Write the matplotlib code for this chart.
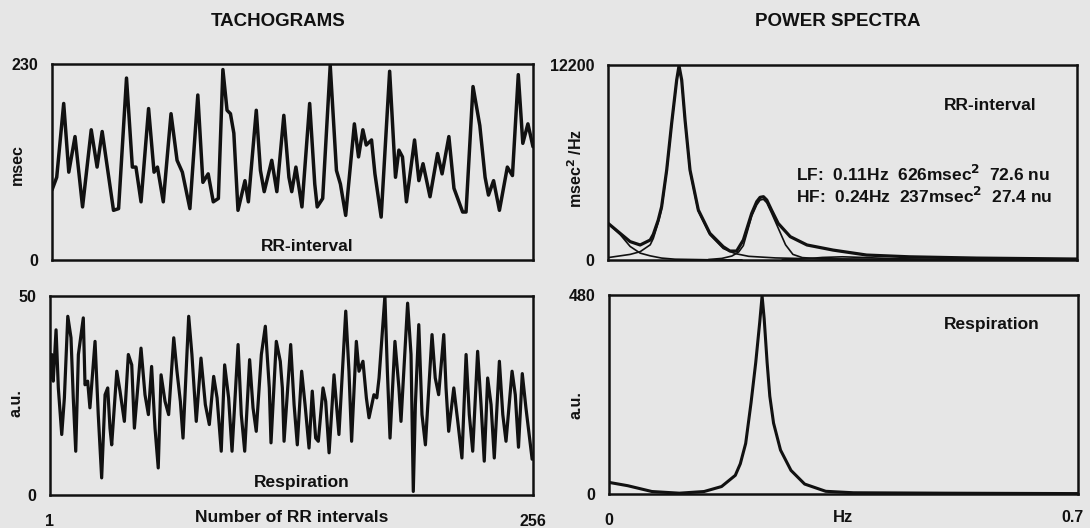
"""Tachograms and power spectra of RR-interval and respiration."""

import matplotlib

matplotlib.use("Agg")
import matplotlib.pyplot as plt

W, H = 1090, 528
BG = "#e6e6e6"
INK = "#111111"

# RR-interval tachogram: beat number and msec (traced turning points)
rr_beat = [1, 3.5, 7.2, 9.9, 13.2, 17.2, 21.8, 24.9, 27.6, 33.6, 36.3, 40.5,
           43.6, 45.5, 48.2, 52.2, 55.1, 56.9, 60.0, 64.1, 67.3, 70.1, 74.1,
           78.3, 81.0, 83.8, 86.5, 89.2, 91.6, 93.8, 95.6, 97.4, 99.6, 103.3,
           105.1, 109.3, 111.5, 113.5, 117.5, 120.2, 123.9, 126.6, 128.1,
           130.3, 133.5, 137.6, 140.3, 141.6, 144.5, 148.5, 151.8, 153.9,
           156.7, 161.3, 163.5, 165.8, 167.6, 170.4, 172.2, 175.5, 180.0,
           183.1, 184.9, 186.8, 188.9, 193.2, 195.5, 197.7, 201.4, 205.4,
           207.8, 211.4, 214.1, 218.7, 220.5, 224.2, 227.8, 230.6, 232.4,
           235.1, 238.2, 242.4, 245.1, 248.2, 250.6, 253.3, 256]
rr_msec = [82, 97, 184, 103, 145, 62, 153, 109, 151, 58, 60, 214,
           109, 109, 68, 178, 103, 109, 68, 172, 117, 103, 60,
           194, 91, 101, 68, 72, 224, 176, 172, 149, 58, 93,
           68, 176, 105, 80, 117, 80, 170, 97, 80,
           109, 62, 184, 89, 62, 72, 229, 105, 89,
           52, 160, 121, 153, 135, 141, 101, 50, 222,
           97, 129, 121, 68, 141, 93, 113, 74, 125,
           101, 145, 84, 56, 56, 204, 158, 97, 76,
           93, 58, 109, 99, 218, 137, 160, 133]

# Respiration tachogram: beat number and arbitrary units
resp_beat = [1.0, 1.9, 2.7, 4.2, 5.4, 7.2, 8.6, 10.4, 12.1, 13.3, 14.6, 16.0,
             18.6, 19.5, 20.9, 22.1, 24.8, 26.5, 28.3, 30.1, 31.5, 32.7, 33.6,
             36.3, 38.0, 40.3, 42.4, 44.2, 45.6, 49.1, 51.2, 53.0, 54.7, 56.5,
             58.2, 59.7, 61.8, 63.7, 66.4, 68.1, 69.9, 71.3, 74.3, 76.0, 78.3,
             80.8, 83.1, 85.2, 87.5, 89.3, 91.5, 93.3, 95.4, 97.2, 100.4,
             102.1, 103.9, 106.5, 108.3, 110.0, 112.7, 114.8, 116.9, 117.8,
             120.6, 122.7, 123.8, 124.7, 128.2, 130.0, 131.7, 134.0, 135.8,
             137.9, 139.6, 141.4, 142.8, 145.3, 146.7, 148.5, 151.1, 152.8,
             153.7, 157.3, 159.0, 160.4, 162.9, 164.3, 166.4, 168.2, 169.6,
             172.2, 173.7, 174.9, 178.0, 179.3, 180.7, 183.3, 185.4, 186.5,
             190.0, 191.8, 193.0, 194.1, 195.9, 197.6, 199.4, 202.9, 204.6,
             206.4, 209.1, 210.3, 211.7, 214.4, 216.5, 218.7, 220.9, 222.6,
             224.4, 227.0, 228.8, 230.5, 232.3, 234.1, 235.8, 238.5, 240.3,
             242.0, 245.2, 246.9, 248.6, 250.6, 252.5, 255.8]
resp_au = [29.4, 35.3, 28.6, 41.5, 26.9, 15.2, 24.4, 44.9, 39.5, 24.4, 11.0, 35.3,
           44.5, 27.7, 28.6, 21.9, 38.6, 20.2, 4.3, 25.2, 26.9, 16.8, 12.6,
           31.1, 26.1, 18.5, 35.3, 32.7, 16.8, 36.9, 25.2, 20.2, 32.3, 16.8,
           6.8, 30.2, 23.5, 20.2, 39.5, 31.1, 23.5, 14.3, 44.9, 35.3, 18.5,
           34.4, 22.7, 17.7, 29.8, 24.4, 11.0, 32.7, 24.4, 11.0, 37.8,
           20.2, 11.0, 34.0, 21.9, 16.0, 35.3, 42.4, 26.9, 13.1,
           38.6, 33.6, 26.9, 13.5, 37.8, 22.7, 12.6, 31.1, 22.7,
           11.8, 26.1, 14.3, 13.5, 26.9, 23.5, 10.6, 30.2, 20.2,
           15.2, 46.2, 31.1, 13.5, 38.6, 31.1, 33.6, 24.4, 19.4,
           25.2, 24.4, 29.4, 50.0, 31.1, 14.3, 38.6, 26.9, 18.5,
           48.2, 35.3, 0.9, 22.7, 42.8, 20.2, 12.6, 40.3, 29.4,
           25.2, 40.3, 26.9, 16.0, 26.9, 18.5, 9.3, 35.3, 20.2,
           11.0, 36.1, 22.7, 8.5, 29.4, 22.7, 9.3, 33.6, 20.2,
           13.5, 31.1, 25.2, 12.0, 30.5, 22.0, 9.0]

# RR-interval power spectrum (msec^2/Hz) and its components
rr_total_hz = [0.0, 0.018, 0.033, 0.048, 0.063, 0.0676, 0.075, 0.080, 0.0876,
               0.095, 0.1025, 0.106, 0.110, 0.115, 0.1224, 0.1348, 0.152,
               0.172, 0.182, 0.192, 0.202, 0.2145, 0.222, 0.227, 0.232, 0.237,
               0.244, 0.254, 0.272, 0.297, 0.336, 0.386, 0.45, 0.55, 0.7]
rr_total_psd = [2300, 1670, 1150, 940, 1250, 1600, 2500, 3330, 5630,
                8550, 11260, 12150, 11260, 8760, 5630, 3130, 1670,
                830, 560, 560, 1250, 2920, 3650, 3920, 3960, 3750,
                3130, 2290, 1460, 940, 620, 310, 200, 120, 60]
vlf_hz = [0.0, 0.018, 0.033, 0.048, 0.063, 0.08, 0.1, 0.15, 0.2]
vlf_psd = [2300, 1600, 850, 430, 260, 120, 50, 15, 5]
lf_hz = [0.0, 0.033, 0.048, 0.063, 0.0676, 0.075, 0.080, 0.0876, 0.095,
         0.1025, 0.106, 0.110, 0.115, 0.1224, 0.1348, 0.152, 0.172, 0.19,
         0.21, 0.25, 0.3, 0.4, 0.55, 0.7]
lf_psd = [150, 350, 520, 950, 1350, 2350, 3200, 5550, 8500,
          11220, 12120, 11220, 8700, 5550, 3050, 1580, 720, 400,
          230, 130, 80, 45, 25, 15]
hf_hz = [0.15, 0.17, 0.185, 0.195, 0.202, 0.2145, 0.222, 0.227, 0.232, 0.237,
         0.244, 0.254, 0.265, 0.276, 0.29, 0.32, 0.4, 0.55, 0.7]
hf_psd = [30, 100, 250, 500, 900, 2750, 3450, 3750, 3800, 3580,
          2950, 2000, 950, 350, 150, 70, 30, 10, 5]
mid_hz = [0.26, 0.29, 0.32, 0.35, 0.38, 0.42, 0.48, 0.55, 0.62, 0.7]
mid_psd = [10, 60, 160, 200, 160, 90, 45, 25, 40, 20]

# Respiration power spectrum (a.u.)
resp_hz = [0.0, 0.028, 0.064, 0.105, 0.142, 0.168, 0.1885, 0.196, 0.204,
           0.212, 0.219, 0.225, 0.2285, 0.2316, 0.236, 0.240, 0.2456, 0.256,
           0.2716, 0.292, 0.3235, 0.365, 0.5, 0.7]
resp_psd = [28, 20, 6, 2, 6, 18, 45, 73, 122,
            220, 317, 415, 478, 423, 317, 236, 171, 106,
            57, 24, 6.5, 3, 2, 1]

FONT = "Liberation Sans"


def box(left, top, right, bottom):
    """Convert a pixel rectangle into a figure-fraction axes rectangle."""
    return [left / W, 1 - bottom / H, (right - left) / W, (bottom - top) / H]


def text_px(fig, x, y, s, size=12, **kw):
    """Place bold text at pixel coordinates of the figure."""
    fig.text(x / W, 1 - y / H, s, fontsize=size, fontweight="bold",
             family=FONT, color=INK, ha=kw.pop("ha", "center"),
             va=kw.pop("va", "center"), **kw)


def label_in(ax, x, y, s, size=12.5, ha="center"):
    """Bold caption inside an axes, in axes-fraction coordinates."""
    ax.text(x, y, s, transform=ax.transAxes, ha=ha, va="center",
            fontsize=size, fontweight="bold", family=FONT, color=INK,
            linespacing=1.15)


def style_axes(ax):
    ax.set_facecolor(BG)
    for spine in ax.spines.values():
        spine.set_linewidth(1.8)
        spine.set_color(INK)
    ax.tick_params(length=0, labelsize=11.5, colors=INK, pad=10)
    for label in ax.get_xticklabels() + ax.get_yticklabels():
        label.set_fontweight("bold")
        label.set_family(FONT)


def main():
    fig = plt.figure(figsize=(W / 100, H / 100), dpi=100, facecolor=BG)

    ax_rr = fig.add_axes(box(52, 64.5, 533, 259.5))
    ax_resp = fig.add_axes(box(50, 296, 532.5, 495))
    ax_rr_ps = fig.add_axes(box(608, 65, 1077, 260))
    ax_resp_ps = fig.add_axes(box(609, 295, 1078, 494))

    line_kw = dict(color=INK, solid_joinstyle="round", solid_capstyle="round")

    # tachograms
    ax_rr.plot(rr_beat, rr_msec, lw=2.5, **line_kw)
    ax_rr.set_xlim(1, 256)
    ax_rr.set_ylim(0, 230)
    ax_rr.set_xticks([])
    ax_rr.set_yticks([0, 230], ["0", "230"])
    label_in(ax_rr, 0.53, 0.067, "RR-interval")

    ax_resp.plot(resp_beat, resp_au, lw=2.3, **line_kw)
    ax_resp.set_xlim(1, 256)
    ax_resp.set_ylim(0, 50)
    ax_resp.set_xticks([1, 256], ["1", "256"])
    ax_resp.set_yticks([0, 50], ["0", "50"])
    label_in(ax_resp, 0.522, 0.065, "Respiration")

    # spectra
    ax_rr_ps.plot(rr_total_hz, rr_total_psd, lw=2.3, **line_kw)
    for hz, psd in ((vlf_hz, vlf_psd), (lf_hz, lf_psd), (hf_hz, hf_psd),
                    (mid_hz, mid_psd)):
        ax_rr_ps.plot(hz, psd, lw=1.2, **line_kw)
    ax_rr_ps.set_xlim(0, 0.7)
    ax_rr_ps.set_ylim(0, 12200)
    ax_rr_ps.set_xticks([])
    ax_rr_ps.set_yticks([0, 12200], ["0", "12200"])
    label_in(ax_rr_ps, 0.815, 0.79, "RR-interval")
    label_in(ax_rr_ps, 0.40, 0.385,
             "LF:  0.11Hz  626msec$^{\\bf 2}$  72.6 nu\n"
             "HF:  0.24Hz  237msec$^{\\bf 2}$  27.4 nu", ha="left")

    ax_resp_ps.plot(resp_hz, resp_psd, lw=2.2, **line_kw)
    ax_resp_ps.set_xlim(0, 0.7)
    ax_resp_ps.set_ylim(0, 480)
    ax_resp_ps.set_xticks([0], ["0"])
    ax_resp_ps.set_yticks([0, 480], ["0", "480"])
    label_in(ax_resp_ps, 0.817, 0.85, "Respiration")

    for ax in (ax_rr, ax_resp, ax_rr_ps, ax_resp_ps):
        style_axes(ax)
    ax_resp.tick_params(axis="x", pad=14)
    ax_resp_ps.tick_params(axis="x", pad=14)

    # headings and axis captions
    text_px(fig, 278, 22, "TACHOGRAMS", size=13.5)
    text_px(fig, 838, 22, "POWER SPECTRA", size=13.5)
    text_px(fig, 17, 165, "msec", size=11.5, rotation=90)
    text_px(fig, 16, 403, "a.u.", size=11.5, rotation=90)
    text_px(fig, 576, 168, "msec$^{\\bf 2}$ /Hz", size=11.5, rotation=90)
    text_px(fig, 576, 405, "a.u.", size=11.5, rotation=90)
    text_px(fig, 292, 518, "Number of RR intervals", size=12.5)
    text_px(fig, 843, 518, "Hz", size=12)
    text_px(fig, 1072, 518, "0.7", size=11.5)

    fig.savefig("out.png", dpi=100, facecolor=BG)
    plt.close(fig)


if __name__ == "__main__":
    main()
